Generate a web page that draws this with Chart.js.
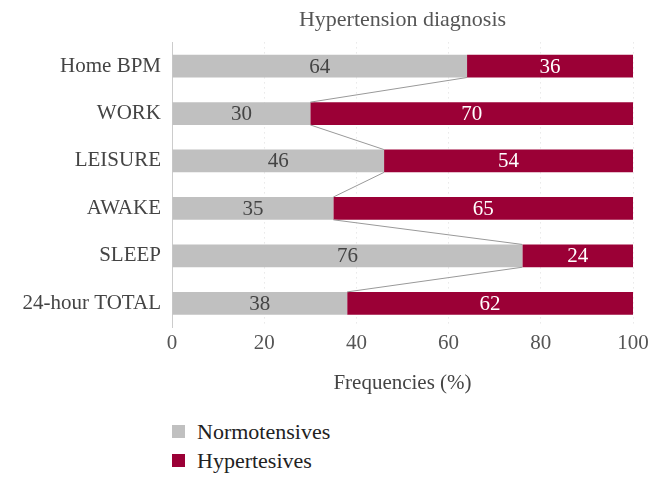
<!DOCTYPE html>
<html>
<head>
<meta charset="utf-8">
<script src="https://cdn.jsdelivr.net/npm/chart.js@4.4.1/dist/chart.umd.min.js"></script>
<style>
  body { margin: 0; background: #fff; }
  #wrap { position: relative; width: 661px; height: 486px; }
  #chart { position: absolute; left: 0; top: 0; }
  #legend { position: absolute; left: 172px; top: 419px; font-family: "Liberation Serif", serif; font-size: 22px; color: #222; }
  #legend div { height: 29px; line-height: 26px; }
  #legend span.box { display: inline-block; width: 13px; height: 13px; margin-right: 12px; vertical-align: 1px; }
</style>
</head>
<body>
<div id="wrap">
  <canvas id="chart" width="661" height="400"></canvas>
  <div id="legend"></div>
</div>
<script>
const categories = ['Home BPM', 'WORK', 'LEISURE', 'AWAKE', 'SLEEP', '24-hour TOTAL'];
const normotensives = [64, 30, 46, 35, 76, 38];
const hypertensives = [36, 70, 54, 65, 24, 62];
const xTicks = [0, 20, 40, 60, 80, 100];

const grey = '#c0c0c0';
const red = '#9b0036';
const font = '"Liberation Serif", serif';

// lines joining the grey/red boundary from one bar to the next
const connectors = {
  id: 'connectors',
  afterDatasetsDraw(chart) {
    const ctx = chart.ctx;
    const bars = chart.getDatasetMeta(0).data;
    ctx.save();
    ctx.strokeStyle = '#999';
    ctx.lineWidth = 1;
    for (let i = 0; i < bars.length - 1; i++) {
      const a = bars[i], b = bars[i + 1];
      ctx.beginPath();
      ctx.moveTo(a.x, a.y + a.height / 2);
      ctx.lineTo(b.x, b.y - b.height / 2);
      ctx.stroke();
    }
    // value labels
    ctx.font = '21px ' + font;
    ctx.textAlign = 'center';
    ctx.textBaseline = 'middle';
    chart.data.datasets.forEach((ds, di) => {
      chart.getDatasetMeta(di).data.forEach((bar, i) => {
        ctx.fillStyle = di === 0 ? '#444' : '#fff';
        ctx.fillText(ds.data[i], (bar.x + bar.base) / 2, bar.y + 1);
      });
    });
    ctx.restore();
  }
};

const chart = new Chart(document.getElementById('chart'), {
  type: 'bar',
  data: {
    labels: categories,
    datasets: [
      { label: 'Normotensives', data: normotensives, backgroundColor: grey },
      { label: 'Hypertesives', data: hypertensives, backgroundColor: red }
    ]
  },
  options: {
    indexAxis: 'y',
    responsive: false,
    animation: false,
    barPercentage: 0.96,
    categoryPercentage: 0.5,
    layout: { padding: { left: 0, right: 28, top: 0, bottom: 0 } },
    plugins: {
      legend: { display: false },
      tooltip: { enabled: false },
      title: {
        display: true,
        fullSize: false,
        text: 'Hypertension diagnosis',
        color: '#555',
        font: { family: font, size: 22, weight: 'normal' },
        padding: { top: 7, bottom: 9 }
      }
    },
    scales: {
      x: {
        stacked: true,
        min: 0,
        max: 100,
        afterBuildTicks(scale) { scale.ticks = xTicks.map(v => ({ value: v })); },
        ticks: { color: '#555', font: { family: font, size: 21 }, padding: 4 },
        grid: { color: '#ddd', borderDash: [1, 4], drawTicks: false },
        border: { display: false, dash: [1, 4] },
        title: {
          display: true,
          text: 'Frequencies (%)',
          color: '#444',
          font: { family: font, size: 21 },
          padding: { top: 6 }
        },
        afterFit(scale) { scale.height = 73; }
      },
      y: {
        stacked: true,
        ticks: { color: '#444', font: { family: font, size: 21 }, padding: 11 },
        grid: { display: false, drawTicks: false },
        border: { display: true, color: '#ccc' },
        afterFit(scale) { scale.width = 172; }
      }
    }
  },
  plugins: [connectors]
});

const legend = document.getElementById('legend');
chart.data.datasets.forEach(ds => {
  const row = document.createElement('div');
  row.innerHTML = '<span class="box" style="background:' + ds.backgroundColor + '"></span>' + ds.label;
  legend.appendChild(row);
});
</script>
</body>
</html>
